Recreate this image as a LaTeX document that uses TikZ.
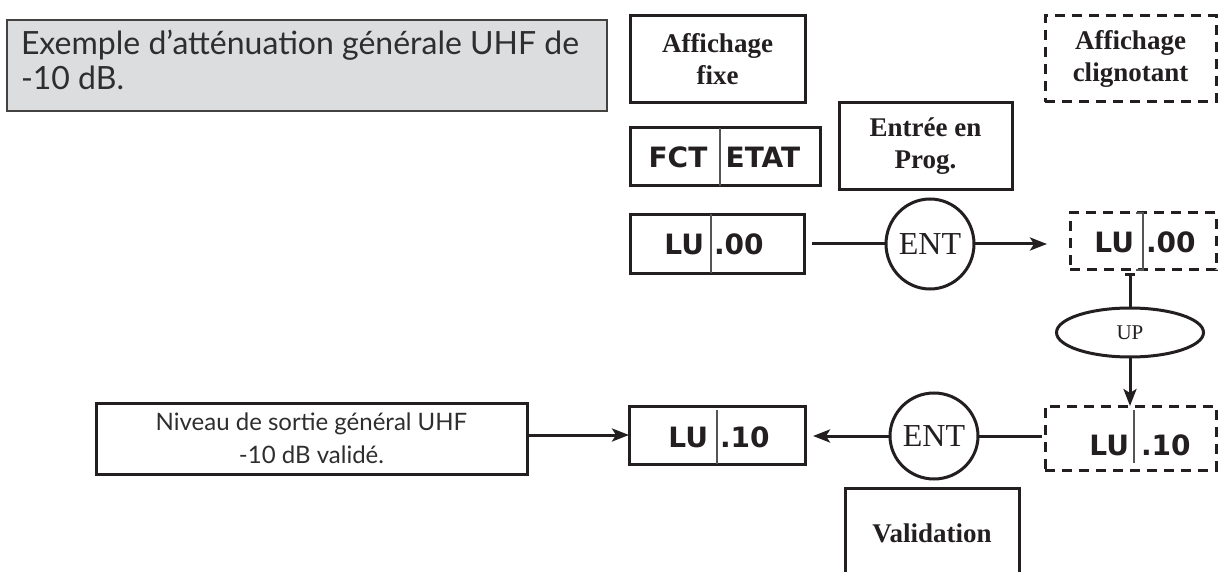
\documentclass[tikz,border=0pt]{standalone}
\usepackage{fontspec}
\setmainfont{Liberation Serif}
\newfontfamily\futfont{Lato}
\newfontfamily\lcdfont{DejaVu Sans}
\usetikzlibrary{arrows.meta,shapes.geometric}
\definecolor{ink}{HTML}{231F20}
\definecolor{titlefill}{HTML}{DCDDDF}
\definecolor{titletext}{HTML}{2E2E2E}
\definecolor{divgray}{HTML}{555555}
\begin{document}
\begin{tikzpicture}[x=1pt,y=-1pt,
  every node/.style={inner sep=0pt, outer sep=0pt},
  frame/.style={draw=ink, line width=3pt, rectangle, align=center, text=ink},
  dframe/.style={frame, dash pattern=on 10pt off 7pt},
  lbl/.style={font=\bfseries\fontsize{27}{32}\selectfont, text=ink, align=center},
  lcd/.style={font=\lcdfont\bfseries\fontsize{28}{28}\selectfont, text=ink},
  keyell/.style={draw=ink, line width=3pt, ellipse, text=ink},
  conn/.style={draw=ink, line width=3pt},
  arr/.style={conn, -{Stealth[length=17pt,width=13pt,inset=4pt]}},
  divider/.style={draw=divgray, line width=1.3pt},
  futtext/.style={font=\futfont\fontsize{32}{34}\selectfont, text=titletext},
]
\useasboundingbox (0,0) rectangle (1219,572);
\clip (0,0) rectangle (1219,572);

% title
\node[frame, draw=ink!85, line width=2pt, fill=titlefill, anchor=north west,
      minimum width=600pt, minimum height=91pt] (title) at (7,20) {};
\node[futtext, anchor=base west] (t1) at (21,55) {Exemple d’atténuation générale UHF de};
\node[futtext, anchor=base west] (t2) at (21,90) {-10 dB.};

% legend boxes
\node[frame, lbl, minimum width=175pt, minimum height=87pt] (fixe) at (717.5,59.5) {Affichage\\fixe};
\node[dframe, lbl, minimum width=171pt, minimum height=86pt] (clig) at (1130.5,59) {Affichage\\clignotant};

\node[frame, minimum width=190pt, minimum height=58pt] (fct) at (725,157) {};
\draw[divider] ([xshift=-5pt]fct.north) -- ([xshift=-5pt]fct.south);
\node[lcd] (fcttxt) at (678,157) {FCT};
\node[lcd] (etattxt) at (763,157) {ETAT};

\node[frame, lbl, minimum width=173pt, minimum height=87pt] (prog) at (925.5,146.5) {Entrée en\\Prog.};

% LU .00 fixed
\node[frame, minimum width=174pt, minimum height=59pt] (lu00) at (717,244) {};
\draw[divider] ([xshift=-6pt]lu00.north) -- ([xshift=-6pt]lu00.south);
\node[lcd, anchor=east] (lu00a) at (704,244) {LU};
\node[lcd, anchor=west] (lu00b) at (714,244) {.00};

\node[keyell, minimum width=87pt, minimum height=90pt, font=\fontsize{32}{32}\selectfont] (ent1) at (930,244) {ENT};

% LU .00 blinking
\node[dframe, minimum width=146pt, minimum height=57pt] (dlu00) at (1143,241.5) {};
\draw[divider] ([xshift=-7pt]dlu00.north) -- (dlu00.north) -- (dlu00.south) -- ([xshift=-7pt]dlu00.south);
\node[lcd, anchor=east] (dlu00a) at (1134,242) {LU};
\node[lcd, anchor=west] (dlu00b) at (1146,242) {.00};

\node[keyell, minimum width=147pt, minimum height=49pt, font=\fontsize{21}{21}\selectfont] (up) at (1130,332.5) {UP};

% LU .10 blinking
\node[dframe, minimum width=171pt, minimum height=64pt] (dlu10) at (1130.5,438) {};
\draw[divider] ([xshift=3.5pt,yshift=-4pt]dlu10.north) -- ([xshift=3.5pt,yshift=7pt]dlu10.south);
\node[lcd, anchor=east] (dlu10a) at (1129,445) {LU};
\node[lcd, anchor=west] (dlu10b) at (1141,445) {.10};

\node[keyell, minimum width=88pt, minimum height=86pt, font=\fontsize{32}{32}\selectfont] (ent2) at (934,436) {ENT};

% LU .10 fixed
\node[frame, minimum width=176pt, minimum height=58pt] (lu10) at (717,435) {};
\draw[divider] ([yshift=-4pt]lu10.north) -- (lu10.south);
\node[lcd, anchor=east] (lu10a) at (708,437) {LU};
\node[lcd, anchor=west] (lu10b) at (720,437) {.10};

\node[frame, minimum width=431pt, minimum height=71pt, font=\futfont\fontsize{24}{33}\selectfont,
      text=titletext] (niv) at (311.5,438.5) {Niveau de sortie général UHF\\-10 dB validé.};

\node[frame, lbl, minimum width=174pt, minimum height=90pt] (valid) at (932,533) {Validation};

% connectors
\draw[conn] ([xshift=8pt]lu00.east) -- (ent1.west);
\draw[arr] (ent1.east) -- ([xshift=-23pt]dlu00.west |- ent1.east);
\coordinate (capc) at ([yshift=-5pt]up.north |- dlu00.south);
\draw[conn] (capc) -- (up.north);
\draw[conn] ([xshift=-5pt]capc) -- ([xshift=5pt]capc);
\draw[arr] (up.south) -- (up.south |- dlu10.north);
\draw[conn] ([xshift=-3pt]dlu10.west |- ent2.east) -- (ent2.east);
\draw[arr] (ent2.west) -- ([xshift=8pt]lu10.east |- ent2.west);
\draw[arr] (niv.east |- lu10.west) -- (lu10.west);
\end{tikzpicture}
\end{document}
